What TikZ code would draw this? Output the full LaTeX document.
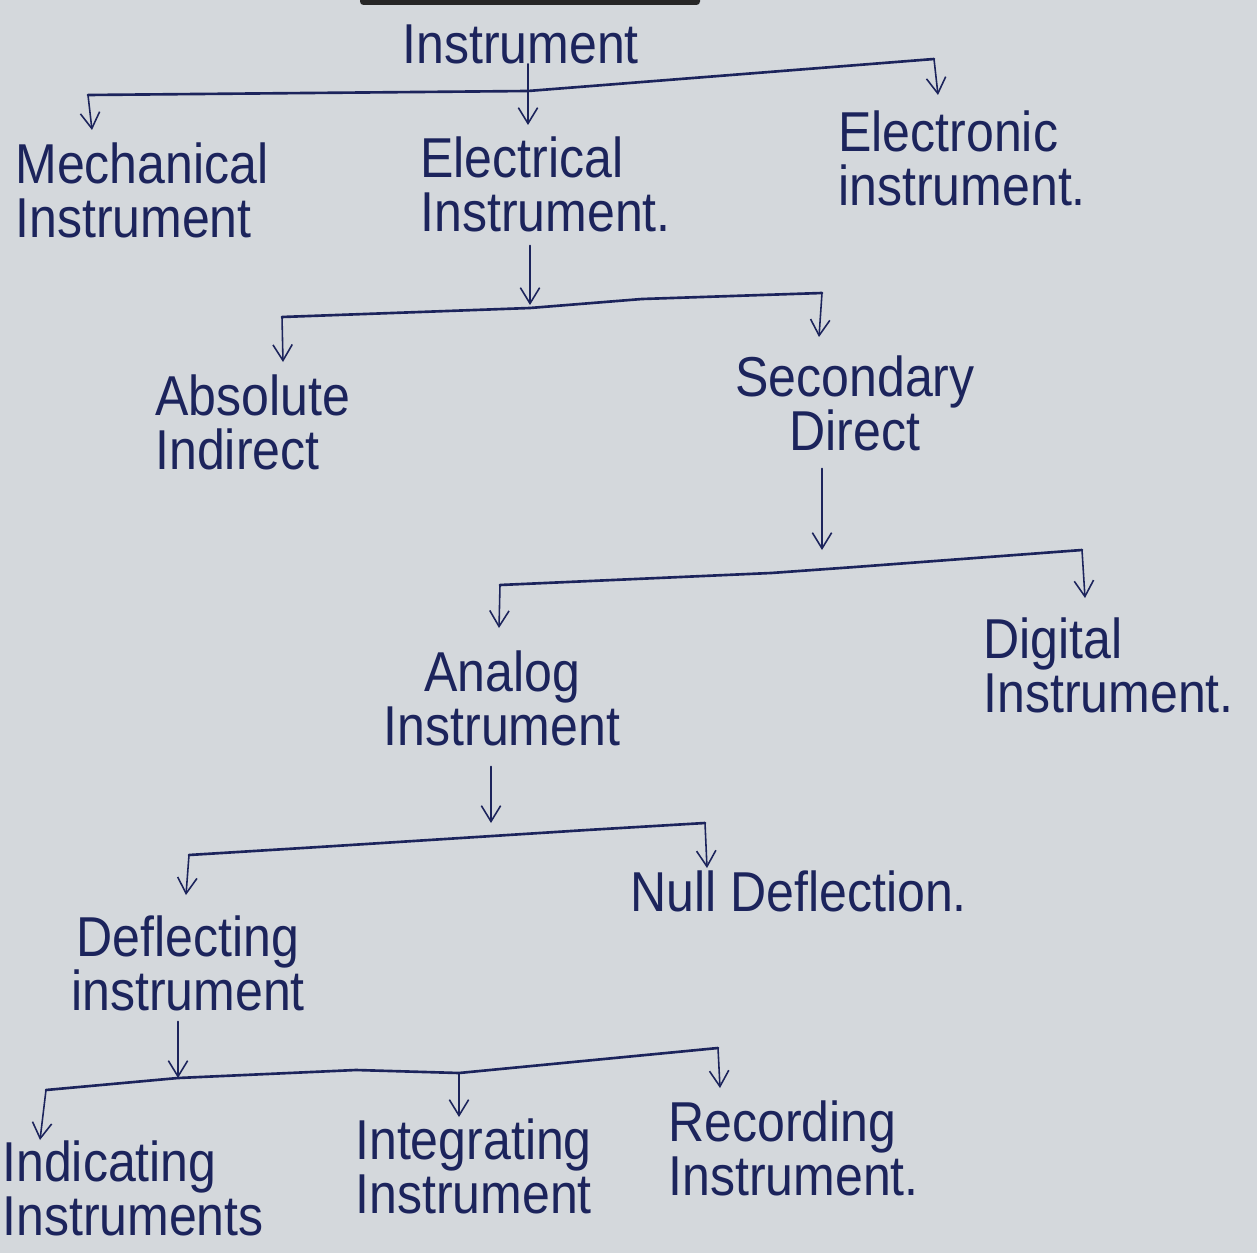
\documentclass[tikz,border=0pt]{standalone}
\usepackage{fontspec}
\setmainfont{Liberation Sans}[FakeStretch=0.89]
\usetikzlibrary{arrows.meta}
\definecolor{paper}{RGB}{212,216,220}
\definecolor{ink}{RGB}{28,36,92}
\newcommand\lblfont{\fontsize{32}{31}\selectfont}
\begin{document}
\lineskiplimit=-100pt\relax
\begin{tikzpicture}[x=0.02cm,y=-0.02cm,
  lbl/.style={inner sep=0pt, text=ink, font=\lblfont, align=left},
  bar/.style={draw=ink, line width=1.5pt, line join=round, line cap=round},
  arr/.style={draw=ink, line width=0.9pt, line cap=round, -{Straight Barb[length=9pt,width=11pt,line width=0.9pt]}}]
\useasboundingbox (0,0) rectangle (1257,1253);
\fill[paper] (0,0) rectangle (1257,1253);
\fill[black!85, rounded corners=2pt] (360,-4) rectangle (700,5);

% labels
\node[lbl, anchor=north west] (root) at (402,24) {Instrument};
\node[lbl, anchor=north west] (mech) at (15,142) {Mechanical\\Instrument};
\node[lbl, anchor=north west] (elec) at (420,136) {Electrical\\Instrument.};
\node[lbl, anchor=north west] (etro) at (838,110) {Electronic\\instrument.};
\node[lbl, anchor=north west] (abs) at (155,374) {Absolute\\Indirect};
\node[lbl, anchor=north, align=center] (sec) at (855,355) {Secondary\\Direct};
\node[lbl, anchor=north, align=center] (ana) at (502,650) {Analog\\Instrument};
\node[lbl, anchor=north west] (dig) at (983,617) {Digital\\Instrument.};
\node[lbl, anchor=north, align=center] (defl) at (188,915) {Deflecting\\instrument};
\node[lbl, anchor=north west] (null) at (630,870) {Null Deflection.};
\node[lbl, anchor=north west] (ind) at (2,1140) {Indicating\\Instruments};
\node[lbl, anchor=north west] (integ) at (355,1118) {Integrating\\Instrument};
\node[lbl, anchor=north west] (rec) at (668,1100) {Recording\\Instrument.};

% level 1
\coordinate (b1L) at (88,95);
\coordinate (b1M) at (528,91);
\coordinate (b1R) at (934,59);
\coordinate (t-mech) at (92,130);
\coordinate (t-elec) at (528,125);
\coordinate (t-etro) at (938,95);
\draw[bar] (b1L) -- (b1M) -- (b1R);
\draw[arr] (root.south -| t-elec) -- (t-elec);
\draw[arr] (b1L) -- (t-mech);
\draw[arr] (b1R) -- (t-etro);

% level 2
\coordinate (b2L) at (282,317);
\coordinate (b2M) at (530,308);
\coordinate (b2K) at (642,299);
\coordinate (b2R) at (822,293);
\coordinate (t-b2) at (530,305);
\coordinate (t-abs) at (283,362);
\coordinate (t-sec) at (819,337);
\draw[bar] (b2L) -- (b2M) -- (b2K) -- (b2R);
\draw[arr, shorten <=0.26cm] (elec.south -| t-b2) -- (t-b2);
\draw[arr] (b2L) -- (t-abs);
\draw[arr] (b2R) -- (t-sec);

% level 3
\coordinate (b3L) at (500,585);
\coordinate (b3a) at (771,573);
\coordinate (b3b) at (855,567);
\coordinate (b3R) at (1082,550);
\coordinate (t-b3) at (822,550);
\coordinate (t-ana) at (499,628);
\coordinate (t-dig) at (1085,598);
\draw[bar] (b3L) -- (b3a) -- (b3b) -- (b3R);
\draw[arr, shorten <=0.34cm] (sec.south -| t-b3) -- (t-b3);
\draw[arr] (b3L) -- (t-ana);
\draw[arr] (b3R) -- (t-dig);

% level 4
\coordinate (b4L) at (189,855);
\coordinate (b4a) at (319,847);
\coordinate (b4b) at (587,830);
\coordinate (b4R) at (705,823);
\coordinate (t-b4) at (491,823);
\coordinate (t-defl) at (186,895);
\coordinate (t-null) at (707,868);
\draw[bar] (b4L) -- (b4a) -- (b4b) -- (b4R);
\draw[arr, shorten <=0.4cm] (ana.south -| t-b4) -- (t-b4);
\draw[arr] (b4L) -- (t-defl);
\draw[arr] (b4R) -- (t-null);

% level 5
\coordinate (b5L) at (46,1090);
\coordinate (b5a) at (178,1078);
\coordinate (b5b) at (356,1070);
\coordinate (b5c) at (459,1073);
\coordinate (b5R) at (718,1048);
\coordinate (t-b5) at (178,1078);
\coordinate (t-ind) at (40,1140);
\coordinate (t-integ) at (459,1117);
\coordinate (t-rec) at (720,1088);
\draw[bar] (b5L) -- (b5a) -- (b5b) -- (b5c) -- (b5R);
\draw[arr, shorten <=0.2cm] (defl.south -| t-b5) -- (t-b5);
\draw[arr] (b5L) -- (t-ind);
\draw[arr] (b5c) -- (t-integ);
\draw[arr] (b5R) -- (t-rec);
\end{tikzpicture}
\end{document}
